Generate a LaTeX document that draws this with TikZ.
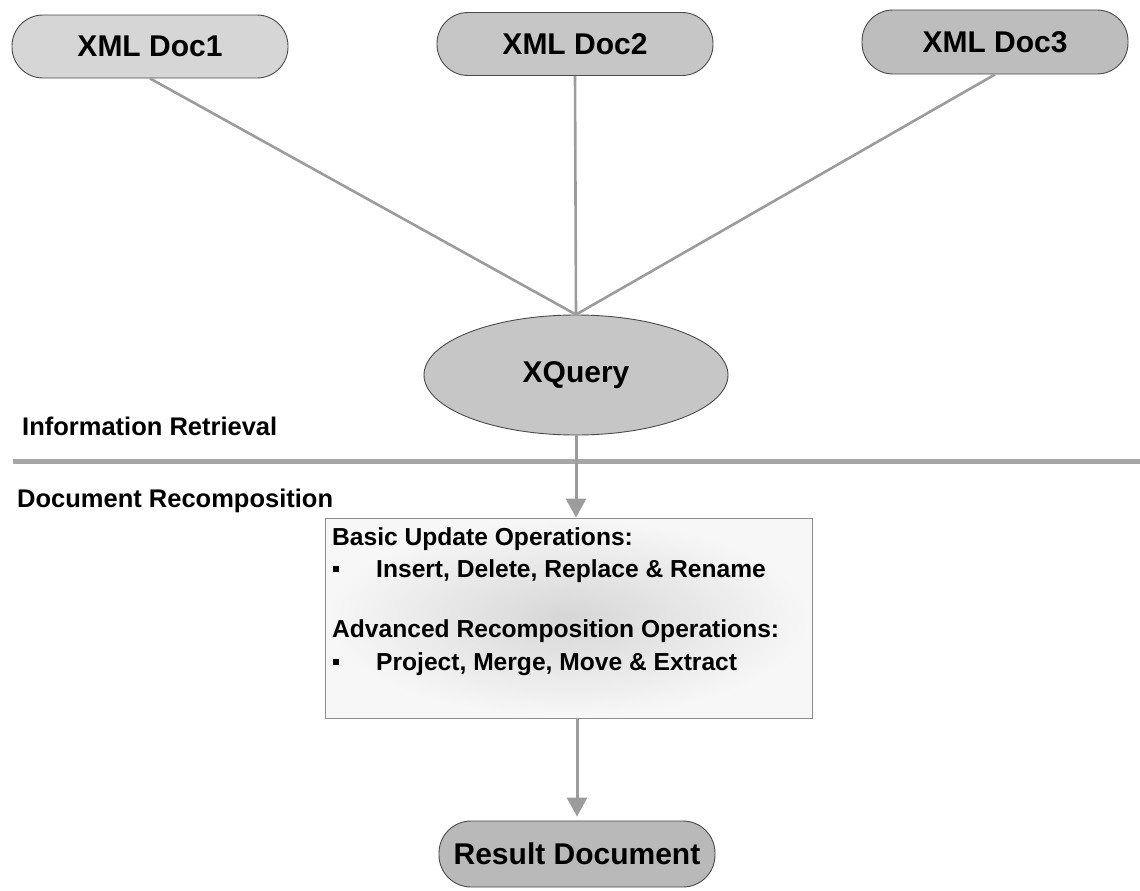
\documentclass[tikz,border=0pt]{standalone}
\usepackage{fontspec}
\setmainfont{Liberation Sans}
\usetikzlibrary{arrows.meta,shapes.geometric}
\definecolor{pillA}{HTML}{D6D6D6}
\definecolor{pillB}{HTML}{C6C6C6}
\definecolor{pillC}{HTML}{BDBDBD}
\definecolor{pillD}{HTML}{B9B9B9}
\definecolor{edge}{HTML}{4A4A4A}
\definecolor{linkc}{HTML}{9C9C9C}
\begin{document}
\begin{tikzpicture}[x=1pt,y=-1pt,
  pill/.style={draw=edge, line width=0.9pt, rounded corners=31pt,
    minimum width=276pt, minimum height=63pt, inner sep=0pt,
    font=\fontsize{30}{36}\selectfont\bfseries},
  oval/.style={ellipse, draw=edge, line width=0.9pt, minimum width=304pt,
    minimum height=120pt, inner sep=0pt, fill=pillB,
    font=\fontsize{30}{36}\selectfont\bfseries},
  opsbox/.style={draw=black!45, line width=0.8pt, minimum width=487pt,
    minimum height=200pt, inner sep=0pt, shading=radial,
    inner color=black!16, outer color=black!3},
  link/.style={draw=linkc, line width=2.6pt},
  flow/.style={draw=linkc, line width=3pt, -{Triangle[width=20pt,length=19pt,fill=linkc]}},
  band/.style={draw=black!35, line width=5pt},
  sidelbl/.style={anchor=base west, inner sep=0pt, font=\fontsize{25.5}{30}\selectfont\bfseries},
  lbl/.style={anchor=base west, inner sep=0pt, font=\fontsize{24.6}{30}\selectfont\bfseries},
  bulletbox/.style={fill=black, minimum size=6pt, inner sep=0pt}
]
\useasboundingbox (0,0) rectangle (1140,891);

% top documents
\node[pill, fill=pillA] (d1) at (150,46.5) {XML Doc1};
\node[pill, fill=pillB] (d2) at (575,44) {XML Doc2};
\node[pill, fill=pillC, minimum width=266pt, minimum height=64pt] (d3) at (995,42) {XML Doc3};

% XQuery
\node[oval] (xq) at (576,375) {XQuery};

\draw[link] (d1.south) -- (xq.north);
\draw[link] (d2.south) -- (xq.north);
\draw[link] (d3.south) -- (xq.north);

% separator
\coordinate (sepL) at (13,461);
\coordinate (sepR) at (1140,461);
\draw[band] (sepL) -- (sepR);

\node[sidelbl] (ir) at (22,435) {Information Retrieval};
\node[sidelbl] (dr) at (17,507) {Document Recomposition};

% operations box
\node[opsbox] (ops) at (568.5,618) {};
\node[lbl] (t1) at (332,545) {Basic Update Operations:};
\node[bulletbox] (b1) at (336,569) {};
\node[lbl] (t2) at (376,577) {Insert, Delete, Replace \& Rename};
\node[lbl] (t3) at (332,637) {Advanced Recomposition Operations:};
\node[bulletbox] (b2) at (336,662) {};
\node[lbl] (t4) at (376,670) {Project, Merge, Move \& Extract};

% result
\node[pill, fill=pillD, minimum height=66pt, rounded corners=32pt] (res) at (577,854) {Result Document};

\draw[flow] (xq.south) -- (xq.south |- ops.north);
\draw[flow, shorten >=4pt] (res.north |- ops.south) -- (res.north);
\end{tikzpicture}
\end{document}
